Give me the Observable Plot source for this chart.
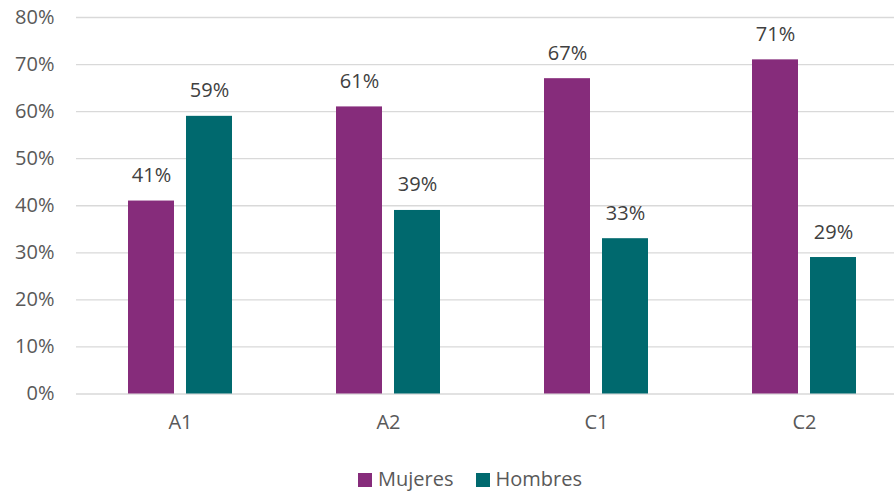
<!DOCTYPE html>
<html>
<head>
<meta charset="utf-8">
<script src="https://cdn.jsdelivr.net/npm/d3@7"></script>
<script src="https://cdn.jsdelivr.net/npm/@observablehq/plot@0.6"></script>
<style>
  html, body { margin: 0; padding: 0; background: #fff; overflow: hidden; }
  #chart svg { overflow: hidden; }
  .legend { display: flex; justify-content: center; align-items: center; gap: 22px; height: 46px; padding-top: 10px;
            font-family: "Open Sans", sans-serif; font-size: 20px; color: #595959; padding-left: 46px; }
  .legend span.sw { display: inline-block; width: 14px; height: 14px; margin-right: 6px; vertical-align: -1px; }
</style>
</head>
<body>
<div id="chart"></div>
<script>
const categories = ["A1", "A2", "C1", "C2"];
const series = ["Mujeres", "Hombres"];
const mujeres = [41, 61, 67, 71];
const hombres = [59, 39, 33, 29];
const colors = ["#862C7B", "#00696E"];
const yTicks = [0, 10, 20, 30, 40, 50, 60, 70, 80];

const data = [];
categories.forEach((c, i) => {
  data.push({cat: c, serie: "Mujeres", value: mujeres[i]});
  data.push({cat: c, serie: "Hombres", value: hombres[i]});
});

const font = "'Open Sans', sans-serif";
const chart = Plot.plot({
  width: 894,
  height: 445,
  marginTop: 17,
  marginBottom: 51.5,
  marginLeft: 75,
  marginRight: -14,
  style: {fontFamily: font, fontSize: "20px", color: "#595959", background: "#fff"},
  fx: {domain: categories, padding: 0, axis: "bottom", label: null, tickSize: 0, tickPadding: 21},
  x: {domain: series, paddingInner: 0.208, paddingOuter: 0.867, axis: null},
  y: {domain: [0, 80], ticks: yTicks, tickFormat: d => d + "%", label: null, tickSize: 0, tickPadding: 22},
  color: {domain: series, range: colors},
  marks: [
    Plot.ruleY(yTicks, {stroke: "#D9D9D9", strokeWidth: 1.3}),
    Plot.barY(data, {fx: "cat", x: "serie", y: "value", fill: "serie"}),
    Plot.text(data, {fx: "cat", x: "serie", y: "value", text: d => d.value + "%",
      lineAnchor: "bottom", dy: -19, fill: "#404040", fontSize: 20})
  ]
});
document.getElementById("chart").appendChild(chart);

const legend = document.createElement("div");
legend.className = "legend";
series.forEach((s, i) => {
  const item = document.createElement("div");
  item.innerHTML = `<span class="sw" style="background:${colors[i]}"></span>${s}`;
  legend.appendChild(item);
});
document.body.appendChild(legend);
</script>
</body>
</html>
